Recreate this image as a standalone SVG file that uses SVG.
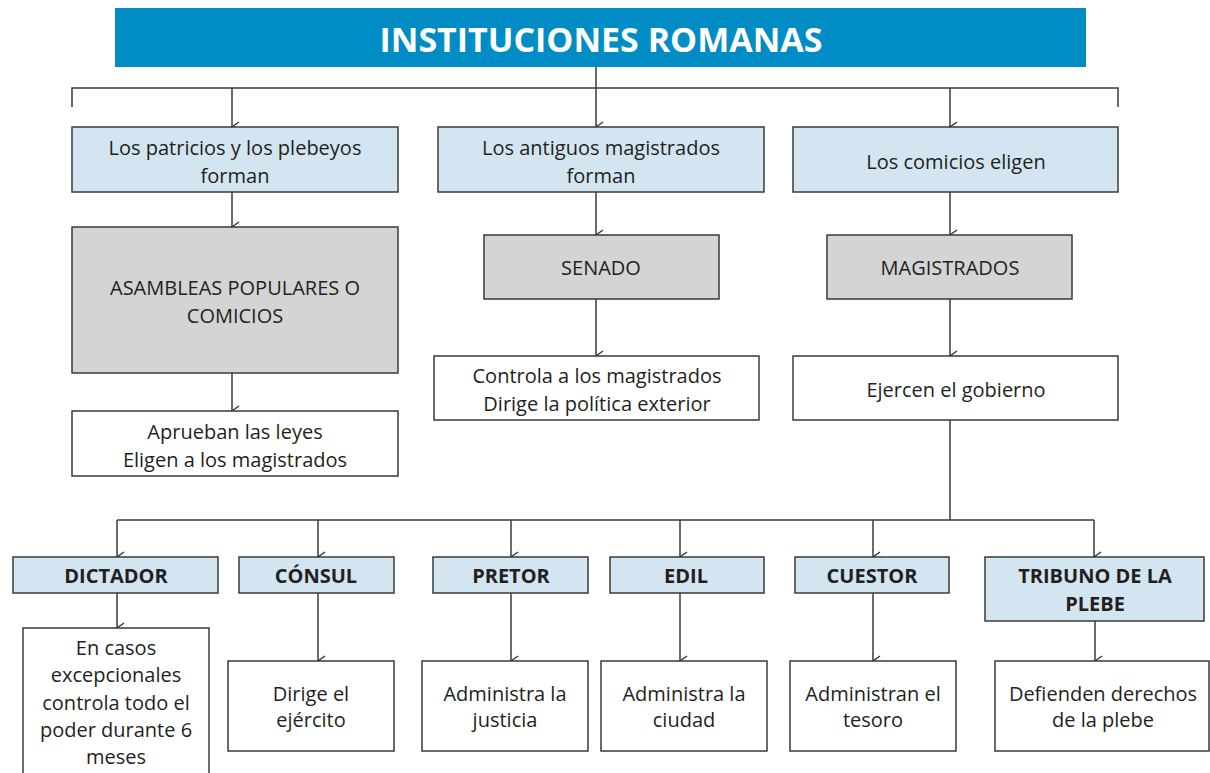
<svg xmlns="http://www.w3.org/2000/svg" width="1210" height="773" viewBox="0 0 1210 773">
<defs>
<marker id="ah" markerWidth="12" markerHeight="10" refX="6" refY="8" orient="auto-start-reverse" markerUnits="userSpaceOnUse" viewBox="0 0 12 10">
<path d="M1,1 L6,8 L11,1" fill="none" stroke="#3a3a3a" stroke-width="1.5"/>
</marker>
</defs>
<style>
.bg{fill:#ffffff}
.title{fill:#008cc4}
.tt{font-family:"Open Sans","Liberation Sans",sans-serif;font-weight:bold;font-size:34px;fill:#ffffff;text-anchor:middle}
.blue{fill:#d3e5f1;stroke:#3a3a3a;stroke-width:1.5}
.gray{fill:#d4d4d4;stroke:#3a3a3a;stroke-width:1.5}
.white{fill:#ffffff;stroke:#3a3a3a;stroke-width:1.5}
.t{font-family:"Open Sans","Liberation Sans",sans-serif;font-size:20px;fill:#231f20;text-anchor:middle}
.b{font-family:"Open Sans","Liberation Sans",sans-serif;font-weight:bold;font-size:20px;fill:#231f20;text-anchor:middle}
.c line,.c polyline{stroke:#3a3a3a;stroke-width:1.5;fill:none}
.c .a{marker-end:url(#ah)}
</style>
<rect class="bg" x="0" y="0" width="1210" height="773"/>

<g id="connectors" class="c">
<line x1="596" y1="67" x2="596" y2="88"/>
<polyline points="72,107 72,88 1118,88 1118,107"/>
<line class="a" x1="232" y1="88" x2="232" y2="127"/>
<line class="a" x1="596" y1="88" x2="596" y2="127"/>
<line class="a" x1="950" y1="88" x2="950" y2="127"/>
<line class="a" x1="232" y1="192" x2="232" y2="227"/>
<line class="a" x1="596" y1="192" x2="596" y2="235"/>
<line class="a" x1="950" y1="192" x2="950" y2="235"/>
<line class="a" x1="232" y1="373" x2="232" y2="411"/>
<line class="a" x1="596" y1="299" x2="596" y2="356"/>
<line class="a" x1="950" y1="299" x2="950" y2="356"/>
<line x1="950" y1="420" x2="950" y2="520"/>
<line x1="117" y1="520" x2="1094" y2="520"/>
<line class="a" x1="117" y1="520" x2="117" y2="557"/>
<line class="a" x1="318" y1="520" x2="318" y2="557"/>
<line class="a" x1="511" y1="520" x2="511" y2="557"/>
<line class="a" x1="680" y1="520" x2="680" y2="557"/>
<line class="a" x1="873" y1="520" x2="873" y2="557"/>
<line class="a" x1="1094" y1="520" x2="1094" y2="557"/>
<line class="a" x1="117" y1="593" x2="117" y2="628"/>
<line class="a" x1="318" y1="593" x2="318" y2="661"/>
<line class="a" x1="511" y1="593" x2="511" y2="661"/>
<line class="a" x1="680" y1="593" x2="680" y2="661"/>
<line class="a" x1="873" y1="593" x2="873" y2="661"/>
<line class="a" x1="1095" y1="621" x2="1095" y2="661"/>
</g>

<g id="title">
<rect class="title" x="115" y="8" width="971" height="59"/>
<text class="tt" x="601" y="52">INSTITUCIONES ROMANAS</text>
</g>

<g id="n-patricios">
<rect class="blue" x="72" y="127" width="326" height="65"/>
<text class="t" x="235" y="155">Los patricios y los plebeyos</text>
<text class="t" x="235" y="183">forman</text>
</g>
<g id="n-antiguos">
<rect class="blue" x="438" y="127" width="326" height="65"/>
<text class="t" x="601" y="155">Los antiguos magistrados</text>
<text class="t" x="601" y="183">forman</text>
</g>
<g id="n-comicios-eligen">
<rect class="blue" x="793" y="127" width="325" height="65"/>
<text class="t" x="956" y="169">Los comicios eligen</text>
</g>

<g id="n-asambleas">
<rect class="gray" x="72" y="227" width="326" height="146"/>
<text class="t" x="235" y="295">ASAMBLEAS POPULARES O</text>
<text class="t" x="235" y="323">COMICIOS</text>
</g>
<g id="n-senado">
<rect class="gray" x="484" y="235" width="235" height="64"/>
<text class="t" x="601" y="275">SENADO</text>
</g>
<g id="n-magistrados">
<rect class="gray" x="827" y="235" width="245" height="64"/>
<text class="t" x="950" y="275">MAGISTRADOS</text>
</g>

<g id="n-aprueban">
<rect class="white" x="72" y="411" width="326" height="65"/>
<text class="t" x="235" y="439">Aprueban las leyes</text>
<text class="t" x="235" y="467">Eligen a los magistrados</text>
</g>
<g id="n-controla">
<rect class="white" x="434" y="356" width="325" height="64"/>
<text class="t" x="597" y="383">Controla a los magistrados</text>
<text class="t" x="597" y="411">Dirige la política exterior</text>
</g>
<g id="n-ejercen">
<rect class="white" x="793" y="356" width="325" height="64"/>
<text class="t" x="956" y="397">Ejercen el gobierno</text>
</g>

<g id="n-dictador">
<rect class="blue" x="13" y="557" width="205" height="36"/>
<text class="b" x="116" y="583">DICTADOR</text>
</g>
<g id="n-consul">
<rect class="blue" x="239" y="557" width="155" height="36"/>
<text class="b" x="316" y="583">CÓNSUL</text>
</g>
<g id="n-pretor">
<rect class="blue" x="433" y="557" width="155" height="36"/>
<text class="b" x="511" y="583">PRETOR</text>
</g>
<g id="n-edil">
<rect class="blue" x="610" y="557" width="154" height="36"/>
<text class="b" x="686" y="583">EDIL</text>
</g>
<g id="n-cuestor">
<rect class="blue" x="795" y="557" width="154" height="36"/>
<text class="b" x="872" y="583">CUESTOR</text>
</g>
<g id="n-tribuno">
<rect class="blue" x="985" y="557" width="219" height="64"/>
<text class="b" x="1095" y="583">TRIBUNO DE LA</text>
<text class="b" x="1095" y="611">PLEBE</text>
</g>

<g id="n-dictador-desc">
<rect class="white" x="23" y="628" width="186" height="150"/>
<text class="t" x="116" y="655">En casos</text>
<text class="t" x="116" y="682">excepcionales</text>
<text class="t" x="116" y="710">controla todo el</text>
<text class="t" x="116" y="737">poder durante 6</text>
<text class="t" x="116" y="764">meses</text>
</g>
<g id="n-consul-desc">
<rect class="white" x="228" y="661" width="166" height="90"/>
<text class="t" x="311" y="701">Dirige el</text>
<text class="t" x="311" y="727">ejército</text>
</g>
<g id="n-pretor-desc">
<rect class="white" x="422" y="661" width="166" height="90"/>
<text class="t" x="505" y="701">Administra la</text>
<text class="t" x="505" y="727">justicia</text>
</g>
<g id="n-edil-desc">
<rect class="white" x="601" y="661" width="166" height="90"/>
<text class="t" x="684" y="701">Administra la</text>
<text class="t" x="684" y="727">ciudad</text>
</g>
<g id="n-cuestor-desc">
<rect class="white" x="790" y="661" width="166" height="90"/>
<text class="t" x="873" y="701">Administran el</text>
<text class="t" x="873" y="727">tesoro</text>
</g>
<g id="n-tribuno-desc">
<rect class="white" x="995" y="661" width="214" height="90"/>
<text class="t" x="1103" y="701">Defienden derechos</text>
<text class="t" x="1103" y="727">de la plebe</text>
</g>
</svg>
